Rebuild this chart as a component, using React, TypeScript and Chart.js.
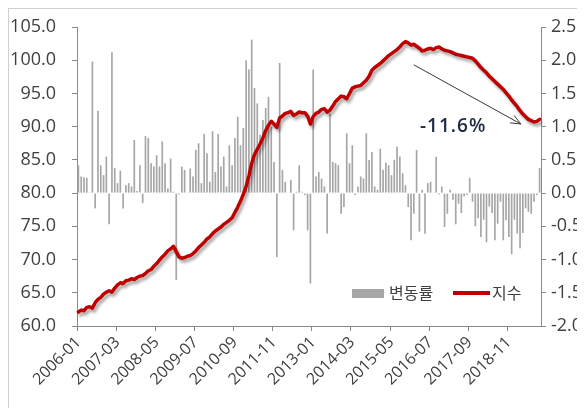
import React, { useEffect, useRef } from 'react';
import { Chart, registerables } from 'chart.js';

Chart.register(...registerables);

// ---- data ----
const START_YEAR = 2006;
const MONTH_COUNT = 166;
const TICK_EVERY = 14;

const CATEGORIES: string[] = [];
for (let i = 0; i < MONTH_COUNT; i++) {
  const y = START_YEAR + Math.floor(i / 12);
  const m = (i % 12) + 1;
  CATEGORIES.push(`${y}-${m < 10 ? '0' + m : m}`);
}

const SERIES_RATE_NAME = '변동률';
const SERIES_INDEX_NAME = '지수';

// 변동률 (%), right axis
const CHANGE_RATE = [
  0.42, 0.25, 0.24, 0.23, 0.01, 1.98, -0.23, 1.24, 0.42, 0.27,
  0.55, -0.47, 2.12, 0.38, 0.15, 0.34, -0.23, 0.12, 0.15, 0.10,
  0.80, 0.03, 0.42, -0.15, 0.86, 0.83, 0.45, 0.40, 0.57, 0.40,
  0.78, 0.45, 0.07, 0.52, 0.02, -1.31, -0.02, 0.40, 0.35, 0.01,
  0.37, 0.25, 0.65, 0.75, 0.15, 0.89, 0.60, 0.17, 0.93, 0.32,
  0.89, 0.40, 0.55, 0.10, 0.72, 0.42, 0.83, 1.15, 0.72, 0.98,
  2.00, 1.86, 2.31, 1.58, 1.35, 0.88, 1.10, 1.28, 1.45, 1.00,
  0.47, -0.96, 1.96, 0.35, 0.17, 0.00, 0.20, -0.56, 0.02, 0.42,
  0.02, -0.03, -0.56, -1.36, 1.86, 0.25, 0.32, 0.22, 0.10, -0.61,
  1.20, 0.47, 0.45, 0.42, -0.31, -0.21, 0.90, 0.45, 0.72, -0.03,
  0.10, 0.25, 0.22, 0.90, 0.50, 0.62, 0.10, 0.05, 0.67, 0.35,
  0.46, 0.42, 0.27, 0.50, 0.70, 0.55, 0.30, 0.12, -0.21, -0.71,
  -0.31, 0.65, -0.58, 0.05, -0.61, 0.15, 0.17, 0.01, 0.55, -0.02,
  0.10, -0.51, -0.31, 0.05, -0.10, -0.47, -0.16, -0.30, -0.05, -0.03,
  0.23, -0.13, -0.50, -0.38, -0.66, -0.40, -0.74, -0.20, -0.30, -0.71,
  -0.46, -0.13, -0.71, -0.41, -0.66, -0.92, -0.40, -0.61, -0.83, -0.60,
  -0.23, -0.28, -0.31, -0.13, -0.03, 0.38,
];

// 지수, left axis
const INDEX_VALUES = [
  62.1, 62.4, 62.3, 62.8, 62.9, 62.7, 63.5, 64.0, 64.3, 64.8,
  65.1, 65.3, 65.1, 65.7, 66.2, 66.5, 66.4, 66.8, 66.9, 67.1,
  67.0, 67.3, 67.5, 67.6, 67.9, 68.3, 68.5, 69.0, 69.4, 69.9,
  70.4, 70.8, 71.3, 71.6, 72.0, 71.2, 70.4, 70.2, 70.3, 70.5,
  70.6, 70.9, 71.3, 71.8, 72.2, 72.6, 73.1, 73.4, 73.9, 74.3,
  74.6, 74.9, 75.3, 75.6, 75.9, 76.3, 77.1, 77.9, 78.8, 79.8,
  81.0, 82.6, 84.5, 85.8, 86.6, 87.4, 88.3, 89.4, 90.2, 90.8,
  90.4, 89.9, 91.3, 91.6, 92.0, 92.1, 92.3, 91.7, 91.9, 92.2,
  92.1, 92.1, 91.6, 90.4, 91.5, 92.0, 92.2, 92.6, 92.7, 92.2,
  92.5, 93.1, 93.8, 94.2, 94.6, 94.5, 94.2, 95.0, 95.8, 96.0,
  96.1, 96.2, 96.6, 97.0, 97.6, 98.5, 98.9, 99.2, 99.5, 99.9,
  100.3, 100.7, 101.0, 101.3, 101.6, 102.0, 102.5, 102.8, 102.6, 102.3,
  102.4, 102.1, 101.8, 101.4, 101.5, 101.7, 101.8, 101.6, 101.9, 102.0,
  101.7, 101.5, 101.4, 101.3, 101.1, 100.9, 100.8, 100.7, 100.6, 100.5,
  100.4, 100.3, 99.9, 99.4, 98.9, 98.5, 98.1, 97.6, 97.2, 96.8,
  96.4, 96.0, 95.6, 95.1, 94.6, 94.0, 93.5, 93.0, 92.4, 91.9,
  91.5, 91.1, 90.9, 90.7, 90.8, 91.1,
];

const LEFT_TICKS = { min: 60, max: 105, step: 5 };
const RIGHT_TICKS = { min: -2, max: 2.5, step: 0.5 };

// annotation arrow, in data terms: [category index, 지수 value]
const ARROW_FROM = [120, 99.3];
const ARROW_TO = [158.3, 90.4];
const ANNOTATION_TEXT = '-11.6%';

// ---- styles ----
const FONT = "'Open Sans', 'Noto Sans CJK KR', sans-serif";
const TEXT_COLOR = '#404040';
const AXIS_COLOR = '#8a8a8a';
const BAR_COLOR = '#a6a6a6';
const LINE_COLOR = '#c00000';

export default function App() {
  const ref = useRef<HTMLCanvasElement>(null);

  useEffect(() => {
    document.documentElement.style.overflow = 'hidden';
    const canvas = ref.current;
    if (!canvas) return;

    const shadowPlugin = {
      id: 'lineShadow',
      beforeDatasetDraw(chart: any, args: any) {
        if (args.index === 0) {
          const c = chart.ctx;
          c.save();
          c.shadowColor = 'rgba(0,0,0,0.35)';
          c.shadowBlur = 3;
          c.shadowOffsetX = 2;
          c.shadowOffsetY = 3;
        }
      },
      afterDatasetDraw(chart: any, args: any) {
        if (args.index === 0) chart.ctx.restore();
      },
    };

    const arrowPlugin = {
      id: 'arrowAnnotation',
      afterDatasetsDraw(chart: any) {
        const xs = chart.scales.x;
        const ys = chart.scales.y;
        const x1 = xs.getPixelForValue(ARROW_FROM[0]);
        const y1 = ys.getPixelForValue(ARROW_FROM[1]);
        const x2 = xs.getPixelForValue(ARROW_TO[0]);
        const y2 = ys.getPixelForValue(ARROW_TO[1]);
        const c = chart.ctx;
        c.save();
        c.strokeStyle = '#3a3a3a';
        c.lineWidth = 1;
        c.beginPath();
        c.moveTo(x1, y1);
        c.lineTo(x2, y2);
        const ang = Math.atan2(y2 - y1, x2 - x1);
        const len = 11;
        const spread = 0.4;
        c.moveTo(x2, y2);
        c.lineTo(x2 - len * Math.cos(ang - spread), y2 - len * Math.sin(ang - spread));
        c.moveTo(x2, y2);
        c.lineTo(x2 - len * Math.cos(ang + spread), y2 - len * Math.sin(ang + spread));
        c.stroke();
        c.restore();
      },
    };

    const fitVertical = (s: any) => {
      s.width = 68;
      s.paddingTop = 0;
      s.paddingBottom = 0;
    };

    const chart = new Chart(canvas, {
      type: 'bar',
      data: {
        labels: CATEGORIES,
        datasets: [
          {
            type: 'line',
            label: SERIES_INDEX_NAME,
            data: INDEX_VALUES,
            yAxisID: 'y',
            borderColor: LINE_COLOR,
            borderWidth: 3.5,
            pointRadius: 0,
            tension: 0,
            borderJoinStyle: 'round',
            borderCapStyle: 'round',
          } as any,
          {
            type: 'bar',
            label: SERIES_RATE_NAME,
            data: CHANGE_RATE,
            yAxisID: 'y1',
            backgroundColor: BAR_COLOR,
            barPercentage: 0.6,
            categoryPercentage: 1,
          },
        ],
      },
      options: {
        animation: false,
        responsive: false,
        devicePixelRatio: 1,
        layout: { padding: { top: 18, left: 0, right: 0, bottom: 0 } },
        plugins: { legend: { display: false }, tooltip: { enabled: false } },
        scales: {
          x: {
            type: 'category',
            offset: true,
            grid: {
              offset: true,
              drawOnChartArea: false,
              drawTicks: true,
              tickLength: 5,
              color: (ctx: any) => (ctx.index % TICK_EVERY === 0 ? AXIS_COLOR : 'rgba(0,0,0,0)'),
            },
            border: { color: AXIS_COLOR, width: 1 },
            ticks: {
              autoSkip: false,
              maxRotation: 45,
              minRotation: 45,
              padding: 2,
              color: TEXT_COLOR,
              font: { family: FONT, size: 16 },
              callback: (_v: any, i: number) => (i % TICK_EVERY === 0 ? CATEGORIES[i] : ''),
            },
            afterFit: (s: any) => {
              s.height = 103;
              s.paddingTop = 0;
            },
          },
          y: {
            position: 'left',
            min: LEFT_TICKS.min,
            max: LEFT_TICKS.max,
            grid: { drawOnChartArea: false, tickLength: 5, color: AXIS_COLOR },
            border: { color: AXIS_COLOR, width: 1 },
            ticks: {
              stepSize: LEFT_TICKS.step,
              padding: 16,
              color: TEXT_COLOR,
              font: { family: FONT, size: 18 },
              callback: (v: any) => Number(v).toFixed(1),
            },
            afterFit: fitVertical,
          },
          y1: {
            position: 'right',
            min: RIGHT_TICKS.min,
            max: RIGHT_TICKS.max,
            grid: { drawOnChartArea: false, tickLength: 5, color: AXIS_COLOR },
            border: { color: AXIS_COLOR, width: 1 },
            ticks: {
              stepSize: RIGHT_TICKS.step,
              padding: 5,
              color: TEXT_COLOR,
              font: { family: FONT, size: 18 },
              callback: (v: any) => Number(v).toFixed(1),
            },
            afterFit: fitVertical,
          },
        },
      } as any,
      plugins: [shadowPlugin, arrowPlugin],
    });

    return () => chart.destroy();
  }, []);

  const textBase: React.CSSProperties = {
    position: 'absolute',
    fontFamily: FONT,
    color: TEXT_COLOR,
    whiteSpace: 'nowrap',
  };

  return (
    <div
      style={{
        position: 'relative',
        width: 577,
        height: 400,
        overflow: 'hidden',
        borderLeft: '1px solid #cfcfcf',
        borderTop: '1px solid #cfcfcf',
      }}
    >
      <canvas ref={ref} width={600} height={420} style={{ display: 'block', width: 600, height: 420 }} />
      {/* legend */}
      <div style={{ position: 'absolute', left: 343, top: 280, width: 32, height: 9, background: BAR_COLOR }} />
      <span style={{ ...textBase, left: 380, top: 274, lineHeight: '20px', fontSize: 16 }}>{SERIES_RATE_NAME}</span>
      <div style={{ position: 'absolute', left: 444, top: 282, width: 37, height: 4, background: LINE_COLOR }} />
      <span style={{ ...textBase, left: 483, top: 274, lineHeight: '20px', fontSize: 16 }}>{SERIES_INDEX_NAME}</span>
      {/* annotation */}
      <span
        style={{
          ...textBase,
          left: 411,
          top: 104,
          lineHeight: '24px',
          fontSize: 19,
          fontWeight: 600,
          letterSpacing: 1,
          color: '#1f2a44',
        }}
      >
        {ANNOTATION_TEXT}
      </span>
    </div>
  );
}
